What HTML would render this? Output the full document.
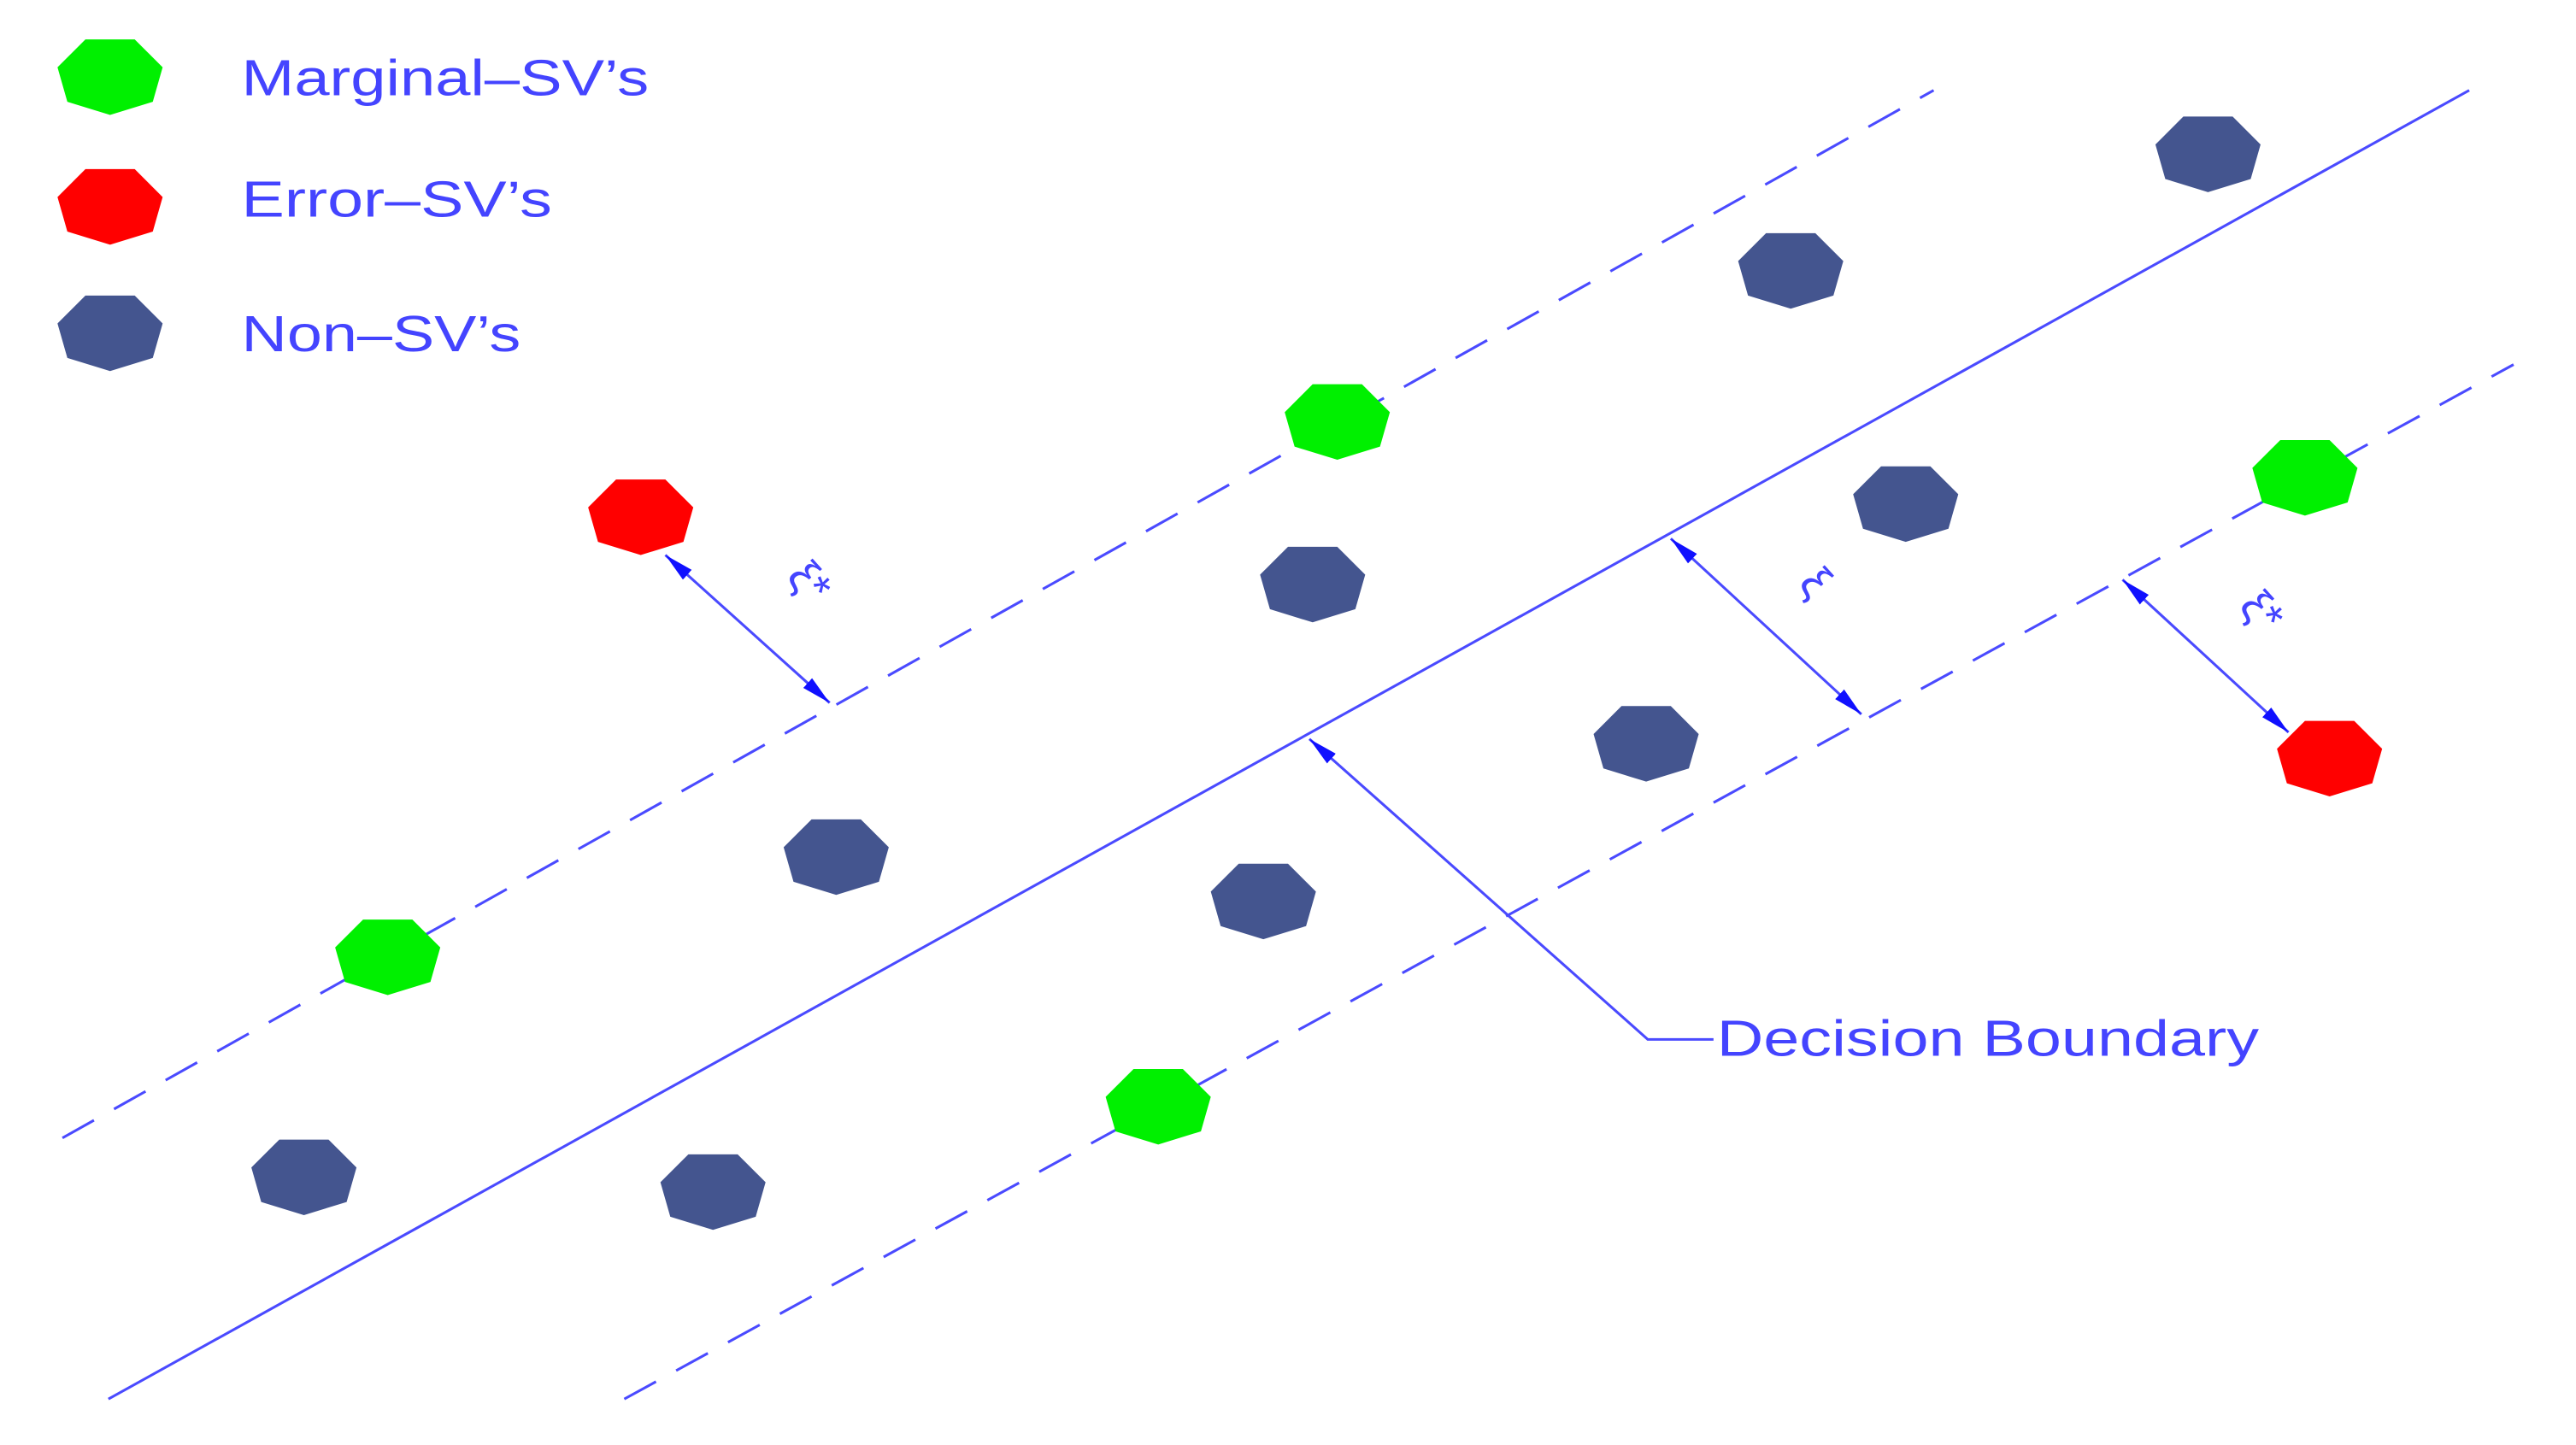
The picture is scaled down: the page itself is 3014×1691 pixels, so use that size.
<!DOCTYPE html>
<html><head><meta charset="utf-8"><style>html,body{margin:0;padding:0;background:#fff;}svg{display:block;}</style></head>
<body>
<svg width="3014" height="1691" viewBox="0 0 1568 880" preserveAspectRatio="none" xmlns="http://www.w3.org/2000/svg">
<defs>
<polygon id="h" points="-15,-23 15,-23 32,-6 26,15 0,23 -26,15 -32,-6"/>
<marker id="a" viewBox="0 0 18 10" refX="18" refY="5" markerWidth="18" markerHeight="10" orient="auto-start-reverse" markerUnits="userSpaceOnUse"><path d="M0,1 L18,5 L0,9 z" fill="#1010ff"/></marker>
</defs>
<rect width="1568" height="880" fill="#fff"/>
<g stroke="#4a4aff" stroke-width="1.6" fill="none">
<line x1="38" y1="693" x2="1177" y2="55" stroke-dasharray="22,14"/>
<line x1="66" y1="852" x2="1503" y2="55"/>
<line x1="380" y1="852" x2="1530" y2="222" stroke-dasharray="22,14"/>
<line x1="405" y1="338" x2="505" y2="428" marker-start="url(#a)" marker-end="url(#a)"/>
<line x1="1017" y1="328" x2="1133" y2="435" marker-start="url(#a)" marker-end="url(#a)"/>
<line x1="1292" y1="353" x2="1393" y2="446" marker-start="url(#a)" marker-end="url(#a)"/>
<polyline points="1043,633 1003,633 797,450" marker-end="url(#a)"/>
</g>
<g fill="#00f000"><use href="#h" x="67" y="47"/><use href="#h" x="814" y="257"/><use href="#h" x="236" y="583"/><use href="#h" x="705" y="674"/><use href="#h" x="1403" y="291"/></g>
<g fill="#ff0000"><use href="#h" x="67" y="126"/><use href="#h" x="390" y="315"/><use href="#h" x="1418" y="462"/></g>
<g fill="#44558f"><use href="#h" x="67" y="203"/><use href="#h" x="1344" y="94"/><use href="#h" x="1090" y="165"/><use href="#h" x="1160" y="307"/><use href="#h" x="799" y="356"/><use href="#h" x="1002" y="453"/><use href="#h" x="509" y="522"/><use href="#h" x="769" y="549"/><use href="#h" x="185" y="717"/><use href="#h" x="434" y="726"/></g>
<g fill="#4444ff" font-family="Liberation Sans, sans-serif" font-size="31">
<text x="147" y="58" textLength="248" lengthAdjust="spacingAndGlyphs">Marginal–SV’s</text>
<text x="147" y="132" textLength="189" lengthAdjust="spacingAndGlyphs">Error–SV’s</text>
<text x="147" y="214" textLength="170" lengthAdjust="spacingAndGlyphs">Non–SV’s</text>
<text x="1045" y="643" textLength="330" lengthAdjust="spacingAndGlyphs">Decision Boundary</text>
<text font-size="28" transform="translate(478,352) rotate(48)">ξ*</text>
<text font-size="28" transform="translate(1094,356) rotate(48)">ξ</text>
<text font-size="28" transform="translate(1362,370) rotate(48)">ξ*</text>
</g>
</svg>
</body></html>
